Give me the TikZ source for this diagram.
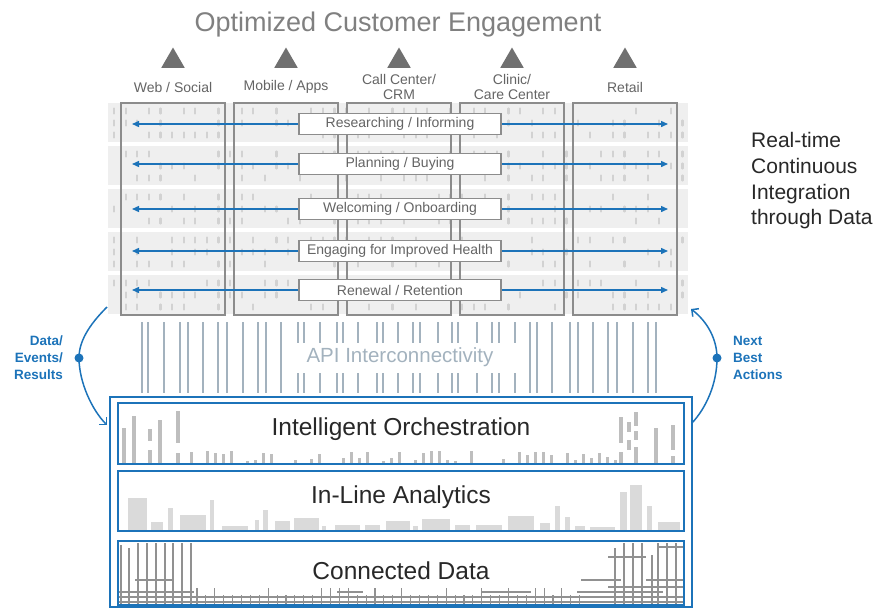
\documentclass[tikz,border=0pt]{standalone}
\usepackage{fontspec}
\setmainfont{Liberation Sans}
\usetikzlibrary{arrows.meta,shapes.geometric}

\definecolor{flowblue}{RGB}{28,115,185}
\definecolor{titlegray}{RGB}{128,128,128}
\definecolor{trigray}{RGB}{112,112,112}
\definecolor{labelgray}{RGB}{100,100,100}
\definecolor{boxgray}{RGB}{140,140,140}
\definecolor{bandgray}{RGB}{239,239,239}
\definecolor{tickgray}{RGB}{210,210,210}
\definecolor{apigray}{RGB}{163,178,190}
\definecolor{bargray}{RGB}{190,190,190}
\definecolor{barlight}{RGB}{218,218,218}
\definecolor{gridgray}{RGB}{145,145,145}
\definecolor{inkdark}{RGB}{40,40,40}

\begin{document}
\begin{tikzpicture}[x=1pt,y=-1pt,
  title/.style={font=\fontsize{27}{30}\selectfont, text=titlegray},
  chtri/.style={regular polygon, regular polygon sides=3, fill=trigray,
    minimum size=27pt, inner sep=0pt},
  chlabel/.style={font=\fontsize{14}{14.5}\selectfont, text=labelgray, align=center},
  colbox/.style={draw=boxgray, line width=1.5pt},
  stagebox/.style={draw=boxgray, fill=white, line width=1.5pt, inner sep=0pt,
    minimum width=202pt, minimum height=21pt,
    font=\fontsize{14}{15}\selectfont, text=labelgray},
  flow/.style={flowblue, line width=1.4pt, -{Triangle[length=7pt,width=6pt]}},
  dashmark/.style={tickgray, line width=2.2pt, line cap=round},
  apiline/.style={apigray, line width=1.2pt},
  sidenote/.style={font=\bfseries\fontsize{13.5}{17}\selectfont, text=flowblue,
    inner sep=0pt},
  cyclearc/.style={flowblue, line width=1.5pt, -{Straight Barb[length=5pt,width=10pt]}},
  knot/.style={circle, fill=flowblue, minimum size=9pt, inner sep=0pt},
  outerbox/.style={draw=flowblue, line width=2.5pt, minimum width=582pt,
    minimum height=210pt, inner sep=0pt},
  layerbox/.style={draw=flowblue, line width=2pt, minimum width=566pt, inner sep=0pt},
  layertext/.style={font=\fontsize{24.5}{26}\selectfont, text=inkdark}
]
  \useasboundingbox (0,0) rectangle (878,608);

  % heading and channels
  \node[title] (heading) at (398,25) {Optimized Customer Engagement};
  \foreach \cx/\nm/\txt in {173/web/{Web / Social}, 286/mobile/{Mobile / Apps},
      399/call/{Call Center/\\CRM}, 512/clinic/{Clinic/\\Care Center},
      625/retail/{Retail}} {
    \node[chtri] (\nm-tri) at (\cx,61) {};
    \node[chlabel] (\nm-lbl) at (\cx,87) {\txt};
  }

  % journey bands with dotted texture
  \pgfmathsetseed{11}
  \foreach \b in {103,146,189,232,275} {
    \fill[bandgray] (108,\b) rectangle (688,\b+39);
    \foreach \s in {8,20,32} {
      \foreach \i in {0,...,49} {
        \pgfmathrandominteger{\r}{0}{9}
        \ifnum\r<5 \draw[dashmark] ({114+\i*11.6},\b+\s-2.5) -- ++(0,5); \fi
      }
    }
  }
  \foreach \cx in {173,286,399,512,625}
    \draw[colbox] (\cx-52,103) rectangle (\cx+52,315);

  % journey stages
  \foreach \ry/\nm/\txt in {124/research/{Researching / Informing},
      164/plan/{Planning / Buying}, 209/welcome/{Welcoming / Onboarding},
      251/engage/{Engaging for Improved Health}, 290/renew/{Renewal / Retention}} {
    \node[stagebox] (\nm) at (400,\ry) {\txt};
    \coordinate (\nm-l) at (132,\ry);
    \coordinate (\nm-r) at (668,\ry);
    \draw[flow] (\nm.west) -- (\nm-l);
    \draw[flow] (\nm.east) -- (\nm-r);
  }

  \node[anchor=west, align=left, inner sep=0pt, font=\fontsize{21}{25.7}\selectfont,
    text=inkdark] (realtime) at (751,181) {Real-time\\Continuous\\Integration\\through Data};

  % API layer
  \foreach \ax in {142,148,164,180,188,203,218,227,243,258,266,281,
      530,537,552,570,578,593,608,617,633,648,656}
    \draw[apiline] (\ax,322) -- (\ax,393);
  \foreach \ax in {298,304,320,337,343,358,377,383,398,413,420,438,452,458,477,492,499,515} {
    \draw[apiline] (\ax,322) -- (\ax,343);
    \draw[apiline] (\ax,373) -- (\ax,393);
  }
  \node[font=\fontsize{20.5}{22}\selectfont, text=apigray] (api) at (400,357)
    {API Interconnectivity};

  % feedback loops
  \coordinate (data-out) at (107,307);
  \coordinate (data-in) at (107,425);
  \node[knot] (data-dot) at (79,358) {};
  \draw[cyclearc] (data-out) .. controls (88,326) and (79,342) .. (data-dot.center)
    .. controls (79,382) and (92,410) .. (data-in);
  \node[sidenote, anchor=east, align=right] (data-lbl) at (63,358)
    {Data/\\Events/\\Results};
  \coordinate (next-out) at (692,423);
  \coordinate (next-in) at (691,309);
  \node[knot] (next-dot) at (717,358) {};
  \draw[cyclearc] (next-out) .. controls (706,408) and (717,384) .. (next-dot.center)
    .. controls (717,340) and (708,322) .. (next-in);
  \node[sidenote, anchor=west, align=left] (next-lbl) at (733,358)
    {Next\\Best\\Actions};

  % platform layers
  \foreach \bx/\bt/\bb in {124/428/464, 134/416/464, 150/429/441, 150/450/464,
      160/420/464, 178/411/443, 178/453/464, 621/417/443, 621/452/464,
      629/422/432, 629/440/450, 636/412/426, 636/431/440, 636/447/464,
      656/428/464, 673/425/450, 673/456/464}
    \fill[bargray] (\bx-1.7,\bt) rectangle (\bx+1.7,\bb);
  \foreach \i in {0,...,53} {
    \pgfmathrandominteger{\r}{0}{9}
    \pgfmathrandominteger{\h}{3}{13}
    \ifnum\r>2 \fill[bargray] ({190+\i*8},464) rectangle ++(3.4,-\h); \fi
  }
  \foreach \xa/\xb/\tp in {128/147/498, 151/163/522, 168/173/508, 180/206/515,
      210/214/500, 222/248/526, 255/259/520, 263/268/510, 275/290/521, 294/319/518,
      322/326/526, 335/360/525, 365/380/525, 386/410/521, 413/418/526, 422/450/519,
      455/470/525, 476/502/525, 508/534/516, 540/550/523, 555/560/506, 565/570/517,
      575/585/526, 590/615/527, 620/627/492, 630/642/485, 647/652/506, 658/680/522}
    \fill[barlight] (\xa,\tp) rectangle (\xb,531);

  % connected data grid
  \foreach \gx/\gt in {121/545, 129/548, 138/543, 147/543, 156/543, 165/543,
      173/543, 182/543, 191/543, 615/548, 624/543, 633/543, 642/543, 652/555,
      658/543, 667/543, 676/543}
    \draw[gridgray, line width=1.1pt] (\gx,\gt) -- (\gx,605);
  \foreach \ha/\hb/\hy in {135/173/580, 118/194/592, 658/684/547, 608/646/557,
      581/621/580, 646/684/580, 608/684/587, 577/663/592, 337/363/592,
      481/531/592, 118/684/597, 118/684/602}
    \draw[gridgray, line width=1.1pt] (\ha,\hy) -- (\hb,\hy);
  \foreach \i in {0,...,43} {
    \pgfmathrandominteger{\r}{0}{9}
    \ifnum\r<3 \draw[gridgray, line width=1.1pt] ({197+\i*8.9},588) -- ++(0,17);
    \else \draw[gridgray, line width=1.1pt] ({197+\i*8.9},595) -- ++(0,10); \fi
  }

  \node[outerbox] (platform) at (401,502) {};
  \node[layerbox, minimum height=61pt] (orch) at (401,433.5) {};
  \node[layerbox, minimum height=60pt] (inline) at (401,501) {};
  \node[layerbox, minimum height=64pt] (connected) at (401,573) {};
  \node[layertext] (orch-txt) at ([yshift=4pt]orch.center) {Intelligent Orchestration};
  \node[layertext] (inline-txt) at ([yshift=4pt]inline.center) {In-Line Analytics};
  \node[layertext] (connected-txt) at ([yshift=2pt]connected.center) {Connected Data};
\end{tikzpicture}
\end{document}
